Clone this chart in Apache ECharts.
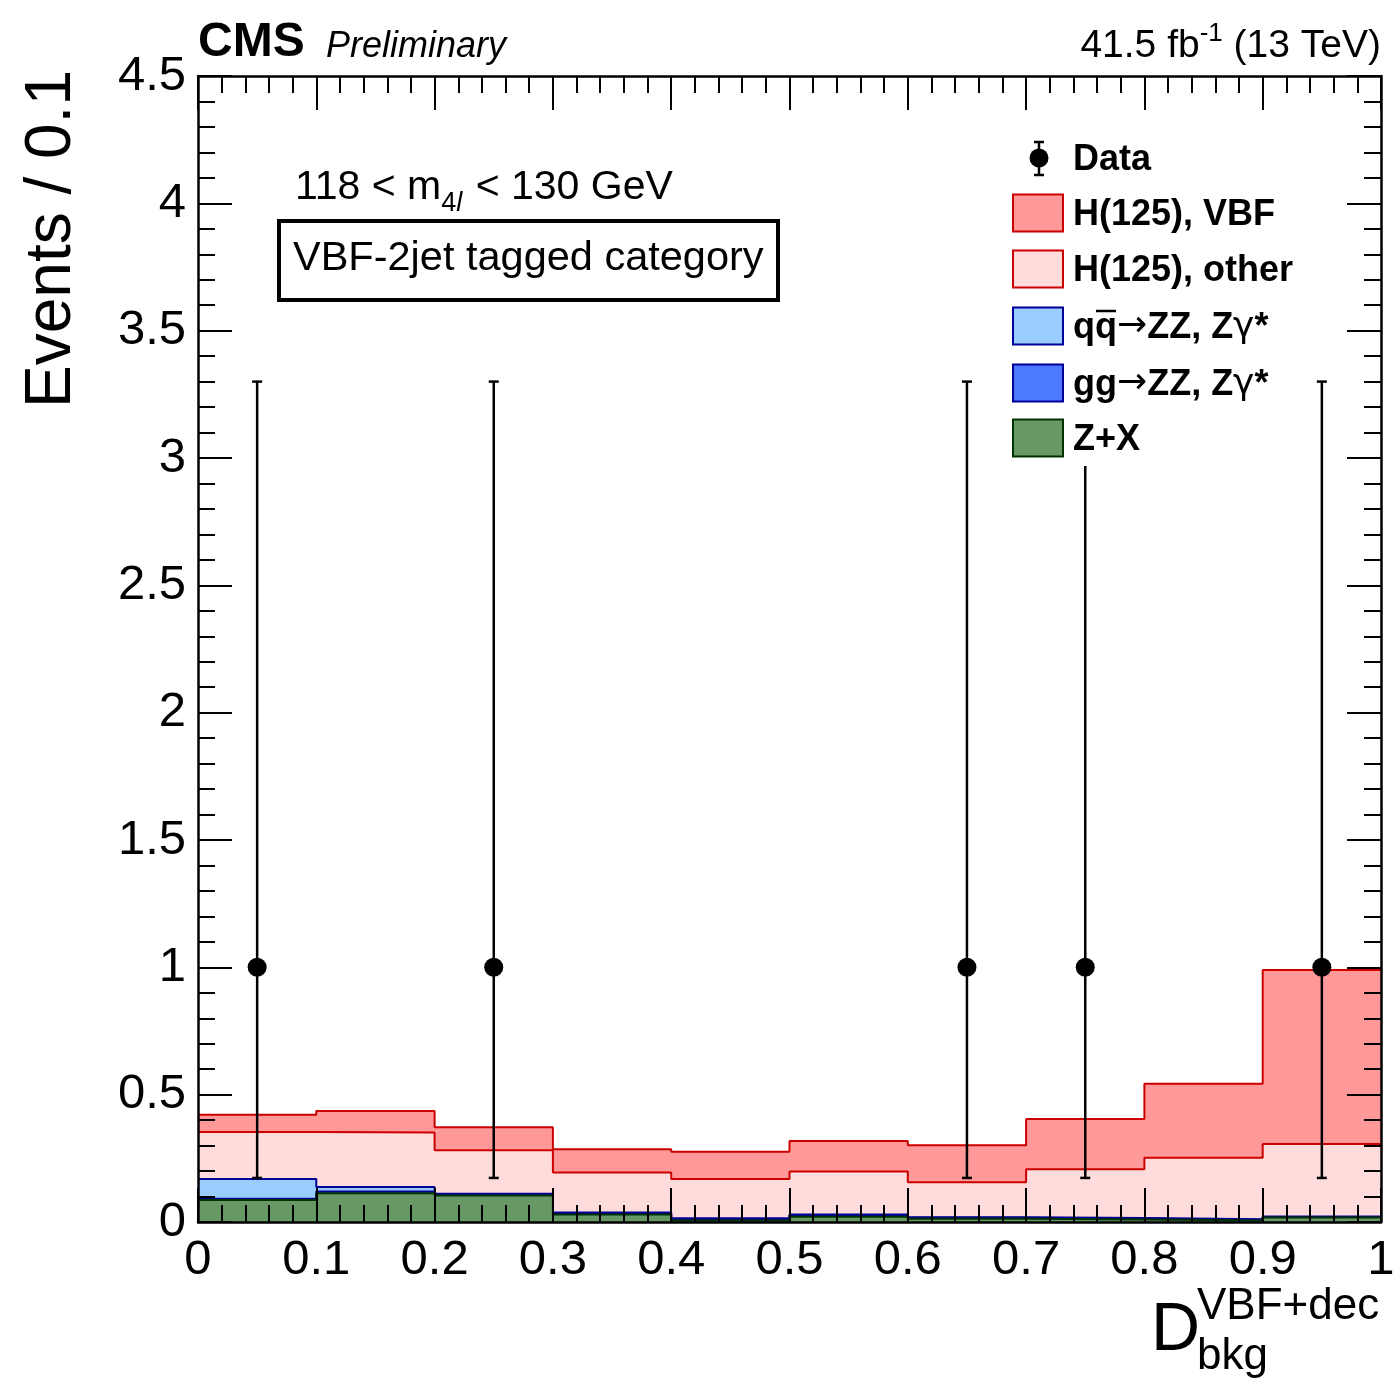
<!DOCTYPE html>
<html>
<head>
<meta charset="utf-8">
<script src="https://cdn.jsdelivr.net/npm/echarts@6/dist/echarts.min.js"></script>
<style>
html,body{margin:0;padding:0;background:#fff;overflow:hidden;}
#chart{width:1393px;height:1379px;}
</style>
</head>
<body>
<div id="chart"></div>
<script>
// ---- data ----
const binEdges = [0.0, 0.1, 0.2, 0.3, 0.4, 0.5, 0.6, 0.7, 0.8, 0.9, 1.0];
const zx     = [0.086, 0.113, 0.104, 0.029, 0.006, 0.021, 0.013, 0.010, 0.006, 0.018];
const ggZZ   = [0.005, 0.007, 0.004, 0.005, 0.006, 0.005, 0.004, 0.004, 0.003, 0.002];
const qqZZ   = [0.078, 0.017, 0.003, 0.003, 0.003, 0.003, 0.002, 0.002, 0.002, 0.002];
const hOther = [0.184, 0.214, 0.171, 0.157, 0.154, 0.169, 0.137, 0.191, 0.241, 0.284];
const hVBF   = [0.068, 0.085, 0.090, 0.092, 0.107, 0.120, 0.145, 0.197, 0.291, 0.684];
const dataX    = [0.05, 0.25, 0.65, 0.75, 0.95];
const dataY    = [1, 1, 1, 1, 1];
const dataLow  = [0.173, 0.173, 0.173, 0.173, 0.173];
const dataHigh = [3.30, 3.30, 3.30, 3.30, 3.30];

const FONT = '"Liberation Sans", Arial, Helvetica, sans-serif';
const SYMFONT = '"DejaVu Sans", "Liberation Sans", sans-serif';
const cv = document.createElement('canvas').getContext('2d');
function fontStr(size, weight, style, fam) {
  return (style || 'normal') + ' ' + (weight || 'normal') + ' ' + size + 'px ' + (fam || FONT);
}
function tw(t, size, weight, style, fam) {
  cv.font = fontStr(size, weight, style, fam);
  return cv.measureText(t).width;
}
function txt(t, x, baseline, size, opts) {
  opts = opts || {};
  return {
    type: 'text', x: x, y: baseline - 0.31 * size, z: 100,
    style: {
      text: t, fill: '#000',
      font: fontStr(size, opts.weight, opts.style, opts.fam),
      align: opts.align || 'left', verticalAlign: 'middle'
    }
  };
}
// place a sequence of text pieces left to right
function pieces(list, x0, baseline, graphicsArr) {
  let x = x0;
  list.forEach(p => {
    graphicsArr.push(txt(p.t, x, baseline + (p.dy || 0), p.size, p));
    x += tw(p.t, p.size, p.weight, p.style, p.fam) + (p.gap || 0);
  });
  return x;
}

// cumulative stack (bottom to top: Z+X, gg, qq, H other, H VBF)
function cum(...arrs) { return arrs[0].map((_, i) => arrs.reduce((s, a) => s + a[i], 0)); }
const topZX = cum(zx);
const topGG = cum(zx, ggZZ);
const topQQ = cum(zx, ggZZ, qqZZ);
const topOther = cum(zx, ggZZ, qqZZ, hOther);
const topVBF = cum(zx, ggZZ, qqZZ, hOther, hVBF);

function stepData(vals) {
  const d = vals.map((v, i) => [binEdges[i], v]);
  d.push([binEdges[binEdges.length - 1], vals[vals.length - 1]]);
  return d;
}
function histSeries(name, vals, fill, line, z) {
  return {
    name: name, type: 'line', step: 'end', data: stepData(vals),
    symbol: 'none', showSymbol: false, z: z,
    lineStyle: { color: line, width: 2 },
    itemStyle: { color: fill },
    areaStyle: { color: fill, opacity: 1, origin: 'start' },
    animation: false
  };
}

const graphics = [];
// header
graphics.push(txt('CMS', 198, 58, 48, { weight: 'bold' }));
graphics.push(txt('Preliminary', 326, 58, 36, { style: 'italic' }));
{
  const s = 39, ss = 26;
  const a = '41.5 fb', b = '-1', c = ' (13 TeV)';
  const wa = tw(a, s), wb = tw(b, ss), wc = tw(c, s);
  let x0 = 1381 - (wa + wb + wc);
  graphics.push(txt(a, x0, 58, s));
  graphics.push(txt(b, x0 + wa, 42, ss));
  graphics.push(txt(c, x0 + wa + wb, 58, s));
}
// mass window
pieces([
  { t: '118 < m', size: 41 },
  { t: '4', size: 27, dy: 12 },
  { t: 'l', size: 27, dy: 12, style: 'italic', gap: 2 },
  { t: ' < 130 GeV', size: 41 }
], 295, 200, graphics);
graphics.push({ type: 'rect', z: 100, shape: { x: 279, y: 221, width: 499, height: 79 },
  style: { fill: '#fff', stroke: '#000', lineWidth: 4 } });
graphics.push(txt('VBF-2jet tagged category', 293, 271, 41.5));
// y axis title
graphics.push({ type: 'text', x: 52, y: 70, rotation: Math.PI / 2, z: 100,
  style: { text: 'Events / 0.1', fill: '#000', font: 'normal 64px ' + FONT, align: 'right', verticalAlign: 'middle' } });
// x axis title
graphics.push(txt('D', 1151, 1352, 68));
graphics.push(txt('VBF+dec', 1197, 1320, 44));
graphics.push(txt('bkg', 1197, 1370, 44));

// legend
{
  graphics.push({ type: 'rect', z: 90, shape: { x: 1000, y: 128, width: 305, height: 338 },
    style: { fill: '#fff', stroke: null } });
  const LS = 36;
  const boxes = [
    { y: 213, fill: '#ff9999', stroke: '#cc0000' },
    { y: 269, fill: '#ffdcdc', stroke: '#cc0000' },
    { y: 326, fill: '#99ccff', stroke: '#000099' },
    { y: 383, fill: '#4d79ff', stroke: '#000099' },
    { y: 438, fill: '#669966', stroke: '#003300' }
  ];
  // data entry
  graphics.push({ type: 'line', z: 100, shape: { x1: 1039, y1: 142, x2: 1039, y2: 175 }, style: { stroke: '#000', lineWidth: 2.5 } });
  graphics.push({ type: 'line', z: 100, shape: { x1: 1034, y1: 142, x2: 1044, y2: 142 }, style: { stroke: '#000', lineWidth: 2.5 } });
  graphics.push({ type: 'line', z: 100, shape: { x1: 1034, y1: 175, x2: 1044, y2: 175 }, style: { stroke: '#000', lineWidth: 2.5 } });
  graphics.push({ type: 'circle', z: 101, shape: { cx: 1039, cy: 158, r: 9.5 }, style: { fill: '#000' } });
  graphics.push(txt('Data', 1073, 158 + 13, LS, { weight: 'bold' }));
  boxes.forEach(b => {
    graphics.push({ type: 'rect', z: 100, shape: { x: 1013, y: b.y - 18.5, width: 50, height: 37 },
      style: { fill: b.fill, stroke: b.stroke, lineWidth: 2 } });
  });
  graphics.push(txt('H(125), VBF', 1073, 213 + 13, LS, { weight: 'bold' }));
  graphics.push(txt('H(125), other', 1073, 269 + 13, LS, { weight: 'bold' }));
  const procPieces = (first) => [
    { t: first, size: LS, weight: 'bold' },
    { t: '\u2192', size: LS, fam: SYMFONT, dy: -1 },
    { t: 'ZZ, Z', size: LS, weight: 'bold' },
    { t: '\u03b3', size: LS, fam: SYMFONT },
    { t: '*', size: LS, weight: 'bold' }
  ];
  pieces(procPieces('qq'), 1073, 326 + 13, graphics);
  pieces(procPieces('gg'), 1073, 383 + 13, graphics);
  graphics.push(txt('Z+X', 1073, 438 + 13, LS, { weight: 'bold' }));
  // overline over the second q (anti-quark)
  const wq = tw('q', LS, 'bold');
  graphics.push({ type: 'line', z: 100, shape: { x1: 1073 + wq + 1, y1: 311, x2: 1073 + 2 * wq - 1, y2: 311 },
    style: { stroke: '#000', lineWidth: 2.5 } });
}

const axisCommon = {
  type: 'value', z: 20,
  axisLine: { show: true, onZero: false, lineStyle: { color: '#000', width: 2.5 } },
  axisTick: { show: true, inside: true, length: 34, lineStyle: { color: '#000', width: 2 } },
  minorTick: { show: true, splitNumber: 5, length: 17, lineStyle: { color: '#000', width: 2 } },
  splitLine: { show: false }, minorSplitLine: { show: false }
};

const option = {
  animation: false,
  backgroundColor: '#fff',
  grid: { left: 198, right: 12, top: 76, bottom: 157, containLabel: false, outerBoundsMode: 'none' },
  xAxis: [
    Object.assign({}, axisCommon, { min: 0, max: 1, interval: 0.1, position: 'bottom',
      axisLabel: { show: true, color: '#000', fontSize: 49, fontFamily: FONT, margin: 14 } }),
    Object.assign({}, axisCommon, { min: 0, max: 1, interval: 0.1, position: 'top',
      axisLabel: { show: false } })
  ],
  yAxis: [
    Object.assign({}, axisCommon, { min: 0, max: 4.5, interval: 0.5, position: 'left',
      axisLabel: { show: true, color: '#000', fontSize: 49, fontFamily: FONT, margin: 12 } }),
    Object.assign({}, axisCommon, { min: 0, max: 4.5, interval: 0.5, position: 'right',
      axisLabel: { show: false } })
  ],
  graphic: graphics,
  series: [
    histSeries('H(125), VBF', topVBF, '#ff9999', '#cc0000', 3),
    histSeries('H(125), other', topOther, '#ffdcdc', '#cc0000', 4),
    histSeries('qq->ZZ', topQQ, '#99ccff', '#000099', 5),
    histSeries('gg->ZZ', topGG, '#4d79ff', '#000099', 6),
    histSeries('Z+X', topZX, '#669966', '#003300', 7),
    {
      name: 'Data err', type: 'custom', z: 10,
      data: dataX.map((x, i) => [x, dataLow[i], dataHigh[i]]),
      renderItem: function (params, api) {
        const x = api.value(0);
        const p1 = api.coord([x, api.value(1)]);
        const p2 = api.coord([x, api.value(2)]);
        const st = { stroke: '#000', lineWidth: 2.5 };
        return { type: 'group', children: [
          { type: 'line', shape: { x1: p1[0], y1: p1[1], x2: p2[0], y2: p2[1] }, style: st },
          { type: 'line', shape: { x1: p1[0] - 5, y1: p1[1], x2: p1[0] + 5, y2: p1[1] }, style: st },
          { type: 'line', shape: { x1: p2[0] - 5, y1: p2[1], x2: p2[0] + 5, y2: p2[1] }, style: st }
        ] };
      }
    },
    {
      name: 'Data', type: 'scatter', z: 11, symbol: 'circle', symbolSize: 19,
      itemStyle: { color: '#000', opacity: 1 },
      data: dataX.map((x, i) => [x, dataY[i]])
    }
  ]
};

const chart = echarts.init(document.getElementById('chart'), null, { renderer: 'canvas' });
chart.setOption(option);
</script>
</body>
</html>
